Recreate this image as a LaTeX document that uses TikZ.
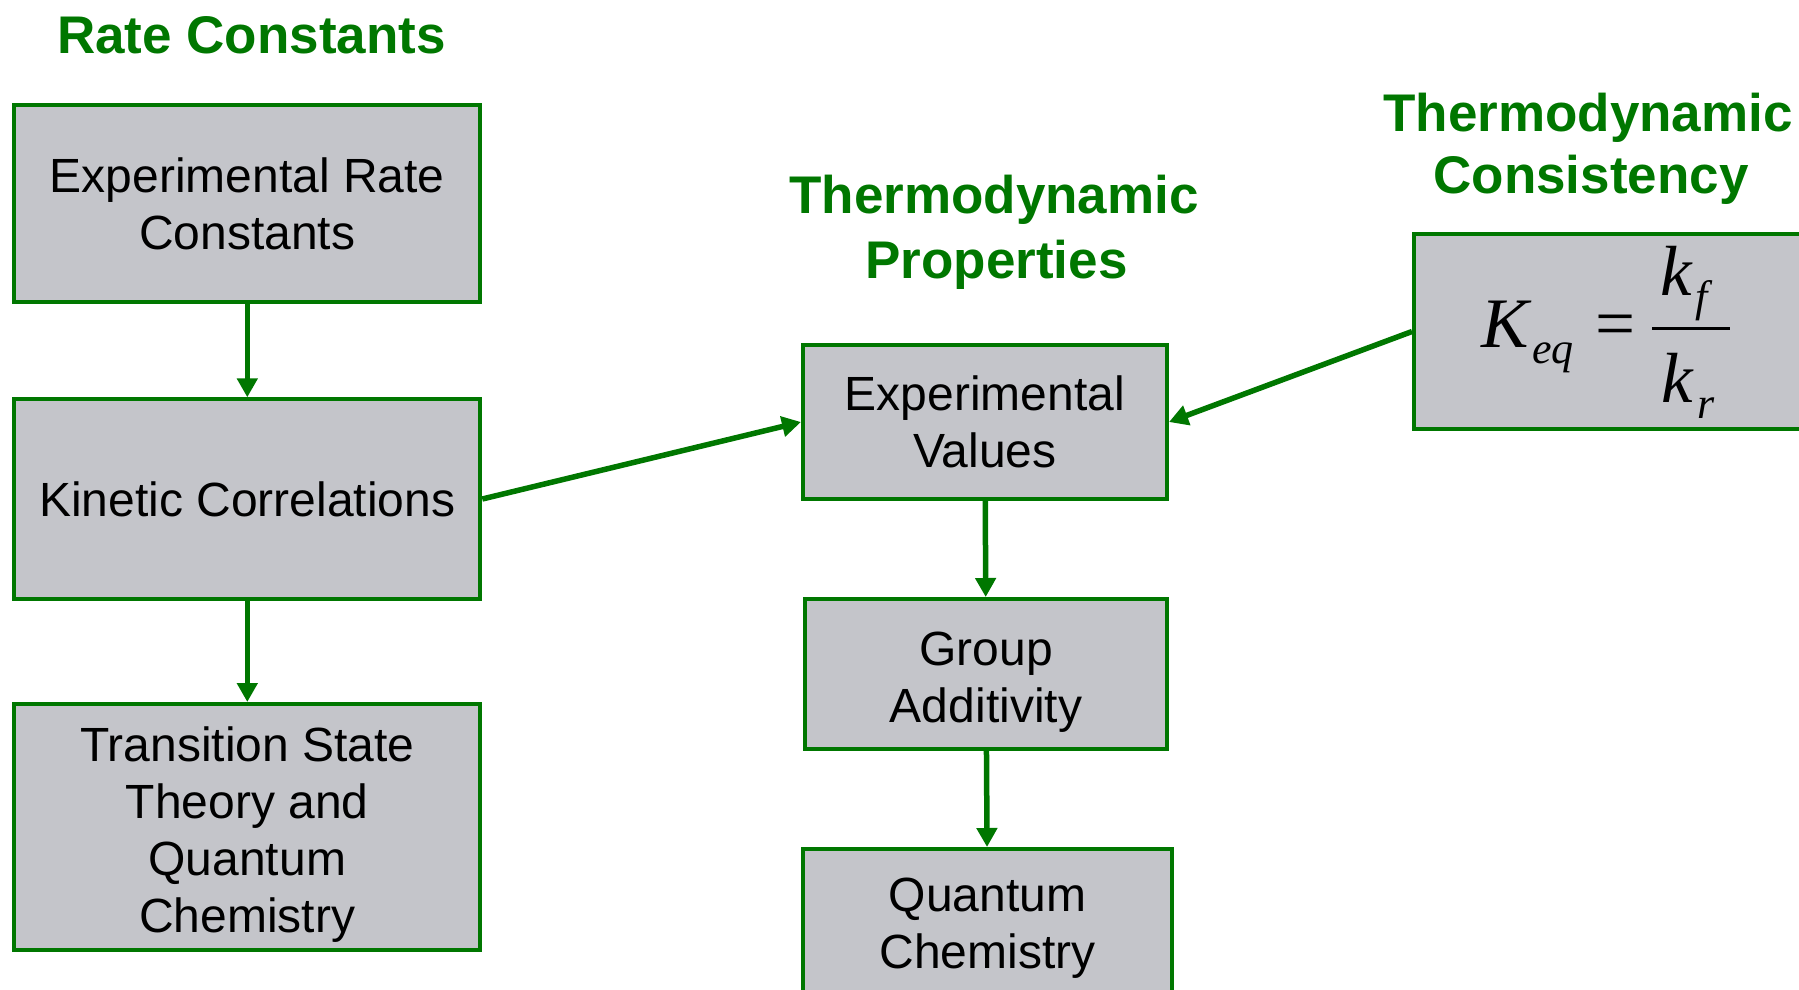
\documentclass[tikz,border=0pt]{standalone}
\usepackage{fontspec}
\setmainfont{Liberation Sans}
\newfontfamily\formulafont{Liberation Serif}
\usetikzlibrary{arrows.meta}
\definecolor{leafgreen}{RGB}{0,119,0}
\definecolor{panelgray}{RGB}{196,197,202}
\begin{document}
\begin{tikzpicture}[x=1pt,y=-1pt,
  box/.style={draw=leafgreen, line width=4pt, fill=panelgray, inner sep=0pt,
    align=center, font=\fontsize{48}{57}\selectfont},
  head/.style={text=leafgreen, font=\fontsize{53}{63}\selectfont\bfseries,
    inner sep=0pt, anchor=base},
  flow/.style={draw=leafgreen, line width=5.5pt,
    -{Triangle[width=20pt,length=19pt]}},
  big/.style={inner sep=0pt, anchor=base west,
    font=\fontsize{71}{71}\selectfont\formulafont\itshape},
  small/.style={inner sep=0pt, anchor=base west,
    font=\fontsize{44}{44}\selectfont\formulafont\itshape},
]
\useasboundingbox (0,0) rectangle (1799,989);

% column headings
\node[head] (hrate) at (251.5,53) {Rate Constants};
\node[head] (hprop1) at (994,213) {Thermodynamic};
\node[head] (hprop2) at (996.5,278) {Properties};
\node[head] (hcons1) at (1588,131) {Thermodynamic};
\node[head] (hcons2) at (1591,193) {Consistency};

% rate constant column
\node[box, minimum width=466pt, minimum height=197pt] (erc) at (247.3,203.5)
  {Experimental Rate\\Constants};
\node[box, minimum width=466pt, minimum height=199.4pt] (kc) at (247.3,499)
  {Kinetic Correlations};
\node[box, minimum width=466pt, minimum height=246pt] (ts) at (247.3,827)
  {\rule{0pt}{49pt}Transition State\\Theory and\\Quantum\\Chemistry};

% thermodynamic column
\node[box, minimum width=364pt, minimum height=154pt] (ev) at (985,422)
  {Experimental\\Values};
\node[box, minimum width=362pt, minimum height=150pt] (ga) at (986,674)
  {\rule{0pt}{49pt}Group\\Additivity};
\node[box, minimum width=369pt, minimum height=144pt] (qc) at (987.5,921)
  {\rule{0pt}{47pt}Quantum\\Chemistry};

% equilibrium constant
\node[box, minimum width=416pt, minimum height=195pt] (keq) at (1622,331.5) {};
\node[big] (kbig) at (1481,347) {K};
\node[small] (keqsub) at (1532,363) {eq};
\node[big, font=\fontsize{71}{71}\selectfont\formulafont] (eqsign) at (1595,347) {=};
\node[big] (knum) at (1660,295) {k};
\node[small] (fsub) at (1695,311) {f};
\coordinate (barl) at (1652,328);
\coordinate (barr) at (1730,328);
\draw[line width=3pt] (barl) -- (barr);
\node[big] (kden) at (1661,402) {k};
\node[small] (rsub) at (1697,418) {r};

% connectors
\draw[flow] (erc) -- (kc);
\draw[flow] (kc) -- (ts);
\draw[flow] (kc.east) -- (ev.west);
\draw[flow] (keq.west) -- (ev.east);
\draw[flow] (ev) -- (ga);
\draw[flow] (ga) -- (qc);
\end{tikzpicture}
\end{document}
